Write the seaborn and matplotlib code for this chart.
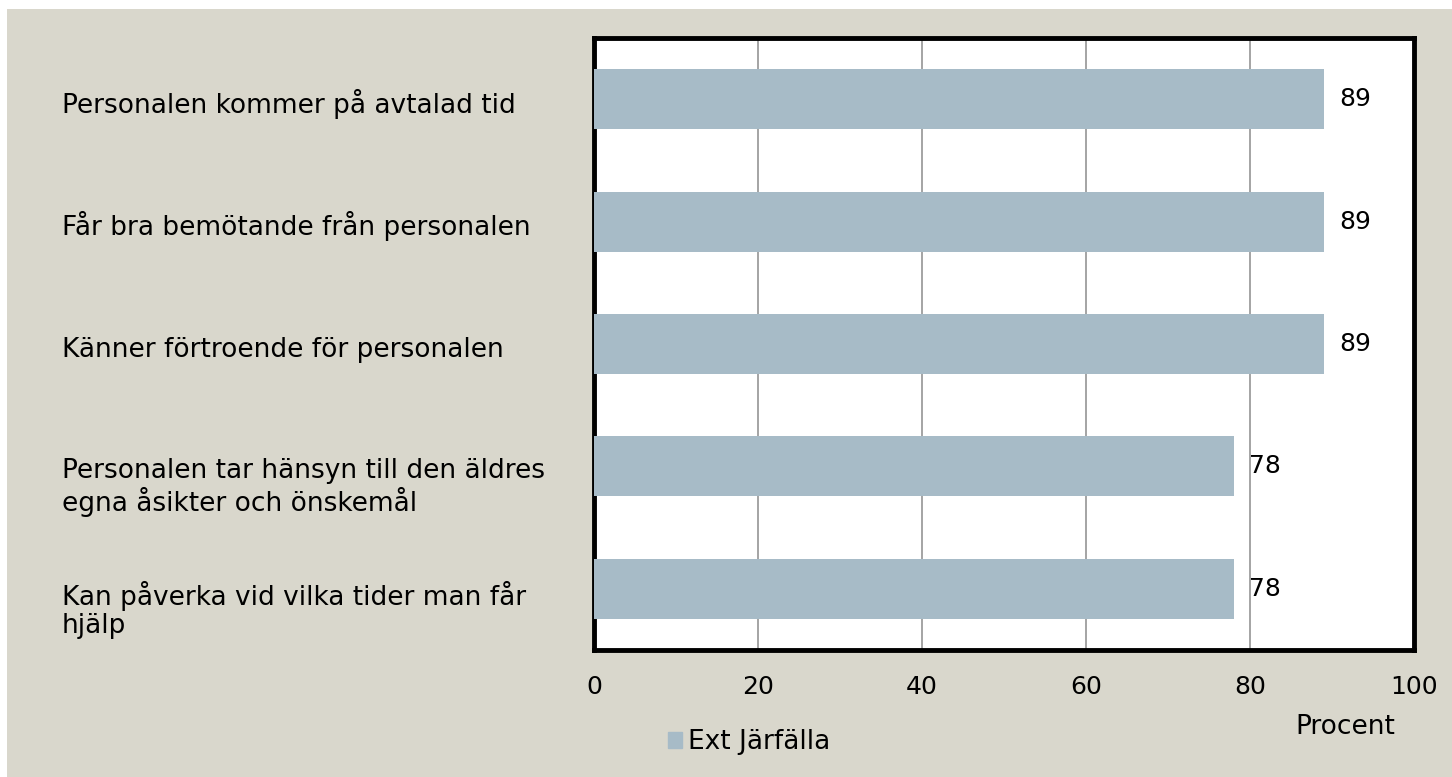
import matplotlib
matplotlib.use("Agg")
import matplotlib.pyplot as plt
import matplotlib.patches as mpatches
import matplotlib.transforms as mtransforms
import seaborn as sns

categories = [
    "Personalen kommer på avtalad tid",
    "Får bra bemötande från personalen",
    "Känner förtroende för personalen",
    "Personalen tar hänsyn till den äldres\negna åsikter och önskemål",
    "Kan påverka vid vilka tider man får\nhjälp",
]
values = [89, 89, 89, 78, 78]
series_name = "Ext Järfälla"
xticks = [0, 20, 40, 60, 80, 100]

bar_color = "#A7BBC7"
bg_color = "#D9D7CC"

sns.set_style("white")
plt.rcParams["font.family"] = ["DejaVu Sans"]
plt.rcParams["text.color"] = "black"
plt.rcParams["xtick.color"] = "black"

fig = plt.figure(figsize=(14.52, 7.77), dpi=100, facecolor="white")
# beige panel behind the chart
fig.patches.append(mpatches.Rectangle((7 / 1452, 0), 1, 1 - 9 / 777,
                                      transform=fig.transFigure,
                                      facecolor=bg_color, edgecolor="none", zorder=-10))
ax = fig.add_axes([594 / 1452, 1 - 650 / 777, 820 / 1452, 612 / 777])
ax.set_facecolor("white")

sns.barplot(x=values, y=list(range(len(categories))), orient="h", color=bar_color,
            saturation=1, width=0.49, linewidth=0, ax=ax, label=series_name, zorder=3)

ax.set_xlim(0, 100)
ax.set_ylim(len(categories) - 0.5, -0.5)
ax.set_xticks(xticks)
ax.set_xticklabels([str(t) for t in xticks], fontsize=18, color="black")
ax.tick_params(axis="x", length=0, pad=18)
ax.set_yticks([])
ax.set_ylabel("")
ax.set_xlabel("")
ax.grid(axis="x", color="#8c8c8c", linewidth=1.1, zorder=0)
ax.set_axisbelow(True)
for s in ax.spines.values():
    s.set_visible(True)
    s.set_color("black")
    s.set_linewidth(3.5)

# category labels, left aligned in the beige margin
# (va="baseline" anchors the last line, so push multi-line labels down)
trans = mtransforms.blended_transform_factory(ax.transAxes, ax.transData)
for i, lab in enumerate(categories):
    extra = lab.count("\n") * 0.255
    ax.text(-532 / 820, i + 0.11 + extra, lab, transform=trans,
            ha="left", va="baseline", fontsize=19, linespacing=1.12, color="black")

for c in ax.containers:
    ax.bar_label(c, labels=[str(v) for v in values], padding=11, fontsize=18, color="black")

fig.text(1345 / 1452, 1 - 727 / 777, "Procent", ha="center", va="center", fontsize=19)

handle = mpatches.Patch(color=bar_color, label=series_name)
leg = ax.legend(handles=[handle], loc="center", bbox_to_anchor=(749 / 1452, 1 - 742 / 777),
                bbox_transform=fig.transFigure, frameon=False, fontsize=19,
                handlelength=0.55, handleheight=0.55, handletextpad=0.2)
for t in leg.get_texts():
    t.set_color("black")

fig.savefig("out.png", dpi=100, facecolor="white")
